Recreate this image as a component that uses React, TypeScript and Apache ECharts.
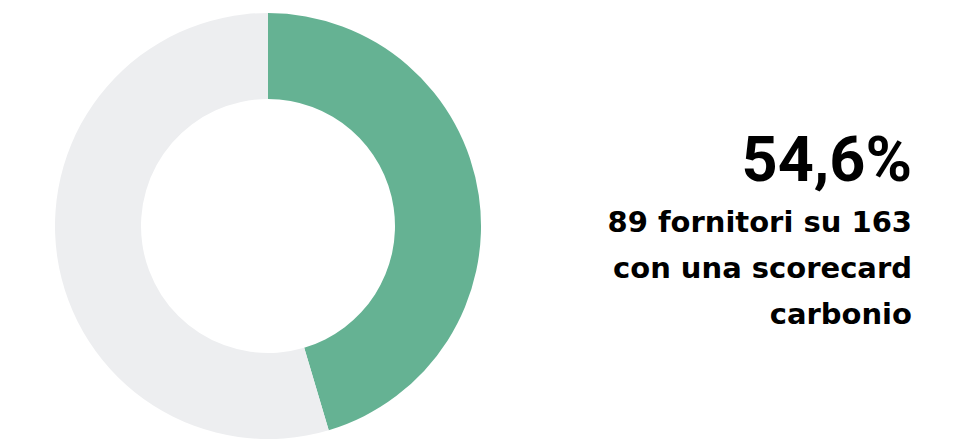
import React, { useEffect, useRef } from "react";
import * as echarts from "echarts";

const sliceNames = ["Quota verde", "Altri fornitori"];
const sliceValues = [74, 89];
const sliceColors = ["#65B293", "#EDEEF0"];
const headline = "54,6%";
const captionLines = ["89 fornitori su 163", "con una scorecard", "carbonio"];

export default function App() {
  const ref = useRef<HTMLDivElement>(null);
  useEffect(() => {
    if (!ref.current) return;
    const chart = echarts.init(ref.current, undefined, { renderer: "svg" });
    chart.setOption({
      animation: false,
      backgroundColor: "#ffffff",
      series: [
        {
          type: "pie",
          center: [268, 226],
          radius: [127, 213],
          startAngle: 90,
          clockwise: true,
          label: { show: false },
          labelLine: { show: false },
          silent: true,
          itemStyle: { borderWidth: 0 },
          data: sliceNames.map((n, i) => ({
            name: n,
            value: sliceValues[i],
            itemStyle: { color: sliceColors[i] },
          })),
        },
      ],
      graphic: [
        {
          type: "text",
          x: 912,
          y: 159,
          style: {
            text: headline,
            font: "bold 63px Roboto, sans-serif",
            fill: "#000",
            align: "right",
            verticalAlign: "middle",
          },
        },
        ...captionLines.map((t, i) => ({
          type: "text",
          x: 912,
          y: 222 + i * 46,
          style: {
            text: t,
            font: "bold 29px 'DejaVu Sans', sans-serif",
            fill: "#000",
            align: "right",
            verticalAlign: "middle",
          },
        })),
      ],
    });
    return () => chart.dispose();
  }, []);
  return (
    <div
      ref={ref}
      style={{ position: "absolute", left: 0, top: 0, width: 964, height: 440 }}
    />
  );
}
